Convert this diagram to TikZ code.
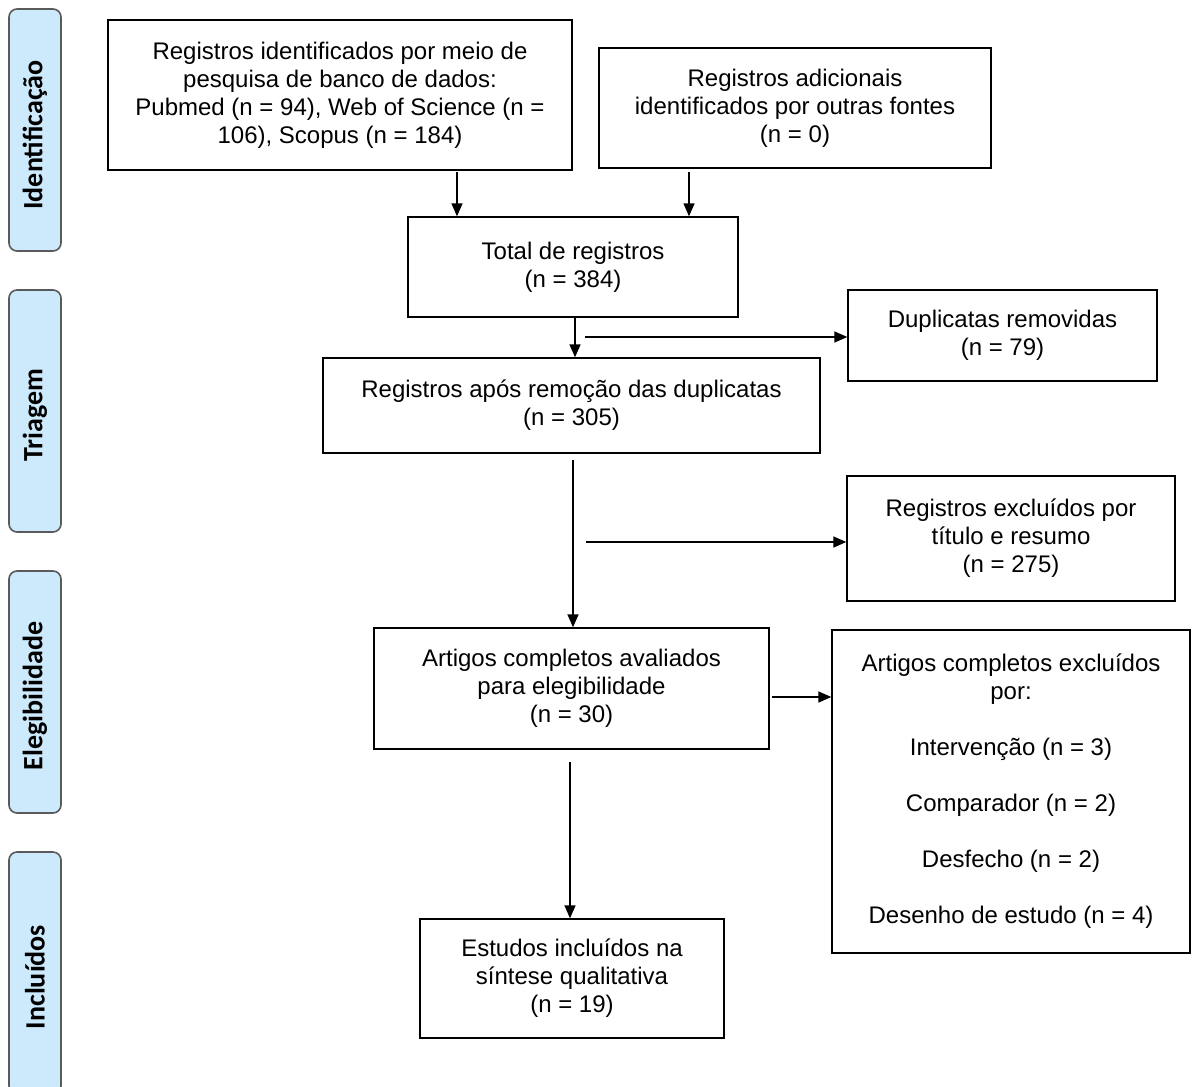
\documentclass[tikz,border=0pt]{standalone}
\usepackage{fontspec}
\setmainfont{Liberation Sans}
\newfontfamily\sidefont{Carlito}
\usetikzlibrary{arrows.meta}
\definecolor{sideblue}{RGB}{204,234,251}
\definecolor{sideline}{RGB}{90,90,90}
\begin{document}
\begin{tikzpicture}[x=0.5pt,y=-0.5pt,
  box/.style={draw=black,line width=0.7pt,fill=white,inner sep=0pt,align=center,
    font=\fontsize{12}{14}\selectfont},
  side/.style={draw=sideline,line width=0.8pt,fill=sideblue,rounded corners=4pt,
    minimum width=26pt,minimum height=121pt,inner sep=0pt},
  sidetext/.style={rotate=90,font=\sidefont\bfseries\fontsize{14}{16}\selectfont},
  arr/.style={line width=0.75pt,-{Triangle[length=6.5pt,width=5.5pt]}}]
\useasboundingbox (0,0) rectangle (1192,1086);
% side labels
\node[side] (s1) at (35,130) {};
\node[sidetext] (t1) at ([yshift=-2.5pt]s1.center) {Identificação};
\node[side] (s2) at (35,411) {};
\node[sidetext] (t2) at ([yshift=-2pt]s2.center) {Triagem};
\node[side] (s3) at (35,692) {};
\node[sidetext] (t3) at ([yshift=-2pt]s3.center) {Elegibilidade};
\node[side] (s4) at (35,973) {};
\node[sidetext] (t4) at ([yshift=-2pt]s4.center) {Incluídos};
% boxes
\node[box,minimum width=232pt,minimum height=75pt] (b1) at (340,95)
  {Registros identificados por meio de\\pesquisa de banco de dados:\\Pubmed (n = 94), Web of Science (n =\\106), Scopus (n = 184)};
\node[box,minimum width=196pt,minimum height=60pt] (b2) at (795,108)
  {Registros adicionais\\identificados por outras fontes\\(n = 0)};
\node[box,minimum width=165pt,minimum height=50pt] (b3) at (573,267)
  {Total de registros\\(n = 384)};
\node[box,minimum width=154.5pt,minimum height=45.5pt] (dup) at (1002.5,335.5)
  {Duplicatas removidas\\(n = 79)};
\node[box,minimum width=248.5pt,minimum height=47.5pt] (reg) at (571.5,405.5)
  {Registros após remoção das duplicatas\\(n = 305)};
\node[box,minimum width=164pt,minimum height=62.5pt] (exc) at (1011,538.5)
  {Registros excluídos por\\título e resumo\\(n = 275)};
\node[box,minimum width=197.5pt,minimum height=60.5pt] (art) at (571.5,688.5)
  {Artigos completos avaliados\\para elegibilidade\\(n = 30)};
\node[box,minimum width=179pt,minimum height=161.5pt] (rsn) at (1011,791.5)
  {Artigos completos excluídos\\por:\\[14pt]Intervenção (n = 3)\\[14pt]Comparador (n = 2)\\[14pt]Desfecho (n = 2)\\[14pt]Desenho de estudo (n = 4)};
\node[box,minimum width=152pt,minimum height=59.5pt] (est) at (572,978.5)
  {Estudos incluídos na\\síntese qualitativa\\(n = 19)};
% connectors
\coordinate (c1) at (457,172);
\coordinate (c2) at (689,172);
\draw[arr] (c1) -- (c1 |- b3.north);
\draw[arr] (c2) -- (c2 |- b3.north);
\coordinate (c3) at (575,318);
\draw[arr] (c3) -- (c3 |- reg.north);
\coordinate (h1) at (585,337);
\draw[arr] (h1) -- (h1 -| dup.west);
\coordinate (c4) at (573,460);
\draw[arr] (c4) -- (c4 |- art.north);
\coordinate (h2) at (586,542);
\draw[arr] (h2) -- (h2 -| exc.west);
\coordinate (h3) at (772,697);
\draw[arr] (h3) -- (h3 -| rsn.west);
\coordinate (c5) at (570,762);
\draw[arr] (c5) -- (c5 |- est.north);
\end{tikzpicture}
\end{document}
